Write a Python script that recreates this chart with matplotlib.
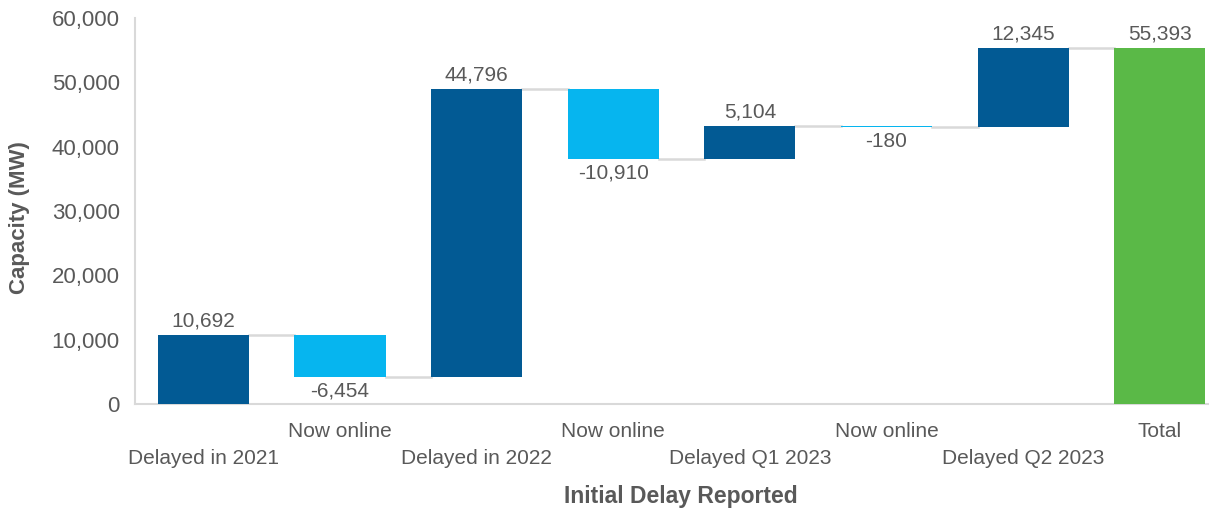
"""Waterfall of delayed capacity by initial delay reported."""

import matplotlib.pyplot as plt

categories = [
    "Delayed in 2021",
    "Now online",
    "Delayed in 2022",
    "Now online",
    "Delayed Q1 2023",
    "Now online",
    "Delayed Q2 2023",
    "Total",
]
changes = [10692, -6454, 44796, -10910, 5104, -180, 12345]
total = 55393

DARK = "#025A94"
LIGHT = "#06B5EF"
GREEN = "#5AB947"
GREY = "#595959"

plt.rcParams["font.family"] = ["Liberation Sans", "DejaVu Sans"]

fig = plt.figure(figsize=(12.09, 5.12), dpi=100)
ax = fig.add_axes([135 / 1209, 1 - 404 / 512, (1209 - 135) / 1209, 386 / 512])

width = 0.667
running = 0
tops = []
for i, v in enumerate(changes):
    bottom = running if v >= 0 else running + v
    color = DARK if v >= 0 else LIGHT
    ax.bar(i, abs(v), bottom=bottom, width=width, color=color, zorder=3)
    if v >= 0:
        ax.text(i, running + v + 700, f"{v:,}", ha="center", va="bottom",
                fontsize=15, color=GREY)
    else:
        ax.text(i, running + v - 700, f"{v:,}", ha="center", va="top",
                fontsize=15, color=GREY)
    running += v
    tops.append(running)

n = len(changes)
ax.bar(n, total, width=width, color=GREEN, zorder=3)
ax.text(n, total + 700, f"{total:,}", ha="center", va="bottom",
        fontsize=15, color=GREY)

# connector lines between bars
for i, level in enumerate(tops):
    ax.plot([i + width / 2, i + 1 - width / 2], [level, level],
            color="#d9d9d9", linewidth=1.8, zorder=2)

ax.set_ylim(0, 60000)
ax.set_xlim(-0.5, 7.36)
ax.set_yticks(range(0, 60001, 10000))
ax.set_yticklabels([f"{t:,}" for t in range(0, 60001, 10000)],
                   fontsize=16, color=GREY)
ax.tick_params(axis="y", length=0, pad=11)
ax.tick_params(axis="x", length=0)
ax.set_xticks([])

for i, label in enumerate(categories):
    y = -4200 if i % 2 else -8400
    if i == n:
        y = -4200
    ax.text(i, y, label, ha="center", va="center", fontsize=15, color=GREY)

for side in ["top", "right"]:
    ax.spines[side].set_visible(False)
for side in ["left", "bottom"]:
    ax.spines[side].set_color("#d9d9d9")
    ax.spines[side].set_linewidth(1.5)

fig.text(20 / 1209, 1 - 218 / 512, "Capacity (MW)", rotation=90, ha="center",
         va="center", fontsize=16, fontweight="bold", color=GREY)
fig.text(681 / 1209, 1 - 497 / 512, "Initial Delay Reported", ha="center",
         va="center", fontsize=16.5, fontweight="bold", color=GREY)

fig.savefig("out.png", dpi=100)
